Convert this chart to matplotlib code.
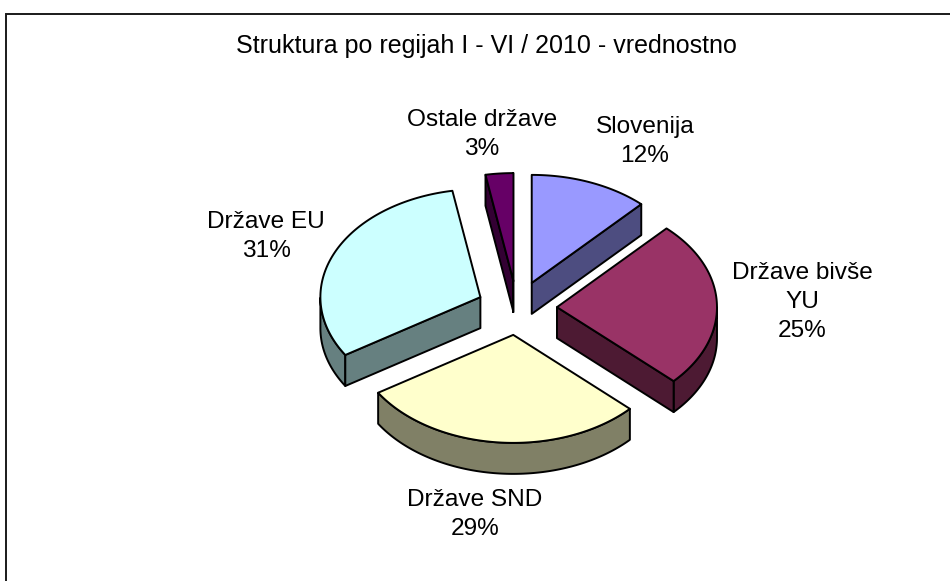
import numpy as np
import matplotlib
matplotlib.use("Agg")
import matplotlib.pyplot as plt
from matplotlib.patches import Polygon

plt.rcParams['font.family'] = ['Liberation Sans', 'DejaVu Sans']

title = "Struktura po regijah I - VI / 2010 - vrednostno"
categories = ["Slovenija", "Države bivše\nYU", "Države SND", "Države EU", "Ostale države"]
shares = [12, 25, 29, 31.2, 2.8]
top_colors = ["#9999FF", "#993366", "#FFFFCC", "#CCFFFF", "#660066"]
side_colors = ["#4D4D80", "#4D1A33", "#808066", "#668080", "#330033"]

W, H = 950, 581
CX, CY = 517, 308
RX, RY = 160, 108
DEPTH = 31
EXPLODE = 0.25
LW = 1.4
FS = 17.6
label_xy = [(645, 162), (802, 337), (475, 535), (266, 257), (482, 155)]

fig = plt.figure(figsize=(W / 100, H / 100), dpi=100, facecolor="white")
ax = fig.add_axes([0, 0, 1, 1])
ax.set_xlim(0, W)
ax.set_ylim(H, 0)
ax.axis("off")


def rim(theta, cx, cy):
    t = np.radians(theta)
    return np.column_stack([cx + RX * np.sin(t), cy - RY * np.cos(t)])


def wall(p, color, z):
    pts = np.vstack([p, p[::-1] + [0, DEPTH]])
    ax.add_patch(Polygon(pts, closed=True, fc=color, ec="black", lw=LW, joinstyle="round", zorder=z))


edges = np.concatenate([[0], np.cumsum(shares)]) * 360.0 / sum(shares)
order = [4, 0, 3, 1, 2]
for rank, i in enumerate(order):
    a0, a1 = edges[i], edges[i + 1]
    mid = np.radians((a0 + a1) / 2)
    cx = CX + EXPLODE * RX * np.sin(mid)
    cy = CY - EXPLODE * RY * np.cos(mid)
    apex = np.array([[cx, cy]])
    z = 2 + rank * 5
    th = np.linspace(a0, a1, 120)
    arc = rim(th, cx, cy)
    front = np.cos(np.radians(th)) < 0
    if front.any():
        wall(arc[front], side_colors[i], z)
    if np.sin(np.radians(a0)) < 0:
        wall(np.vstack([apex, arc[:1]]), side_colors[i], z + 1)
    if np.sin(np.radians(a1)) > 1e-6 or i == len(shares) - 1:
        wall(np.vstack([apex, arc[-1:]]), side_colors[i], z + 1)
    ax.add_patch(Polygon(np.vstack([apex, arc]), closed=True, fc=top_colors[i], ec="black",
                         lw=LW, joinstyle="round", zorder=z + 2))

for name, value, (x, y) in zip(categories, shares, label_xy):
    ax.text(x, y, f"{name}\n{round(value)}%", ha="center", va="baseline", fontsize=FS,
            color="black", linespacing=1.4, zorder=50)

ax.text(486, 53, title, ha="center", va="baseline", fontsize=18.0, color="black", zorder=50)

ax.plot([6, 6, W], [H, 14, 14], color="#1a1a1a", lw=1.4, solid_joinstyle="miter", zorder=60, clip_on=False)

fig.savefig("out.png", dpi=100, facecolor="white")
